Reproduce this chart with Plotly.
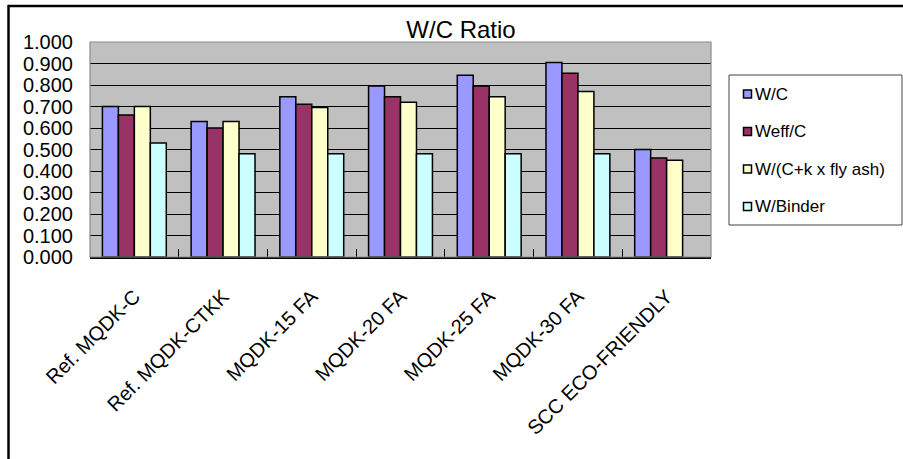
import plotly.graph_objects as go

# Mix designs and their water ratios
categories = ["Ref. MQDK-C", "Ref. MQDK-CTKK", "MQDK-15 FA", "MQDK-20 FA",
              "MQDK-25 FA", "MQDK-30 FA", "SCC ECO-FRIENDLY"]
w_c = [0.70, 0.63, 0.745, 0.795, 0.845, 0.905, 0.50]
weff_c = [0.66, 0.60, 0.71, 0.745, 0.795, 0.855, 0.46]
w_ck = [0.70, 0.63, 0.695, 0.72, 0.745, 0.77, 0.45]
w_binder = [0.53, 0.48, 0.48, 0.48, 0.48, 0.48, None]

series_names = ["W/C", "Weff/C", "W/(C+k x fly ash)", "W/Binder"]
series_values = [w_c, weff_c, w_ck, w_binder]
series_colors = ["#9999FF", "#993366", "#FFFFCC", "#CCFFFF"]

W, H = 903, 459
L, R, T, B = 90, 711, 42, 257  # plot-area pixel box

FONT = "Arial, Liberation Sans, sans-serif"


def px_x(x):
    return (x - L) / (R - L)


def px_y(y):
    return (B - y) / (B - T)


fig = go.Figure()
for name, vals, col in zip(series_names, series_values, series_colors):
    fig.add_trace(go.Bar(
        x=categories, y=vals, name=name, showlegend=False,
        marker=dict(color=col, line=dict(color="black", width=1.5)),
    ))

shapes = [
    # plot-area frame
    dict(type="rect", xref="paper", yref="paper", x0=0, x1=1, y0=0, y1=1,
         line=dict(color="#8c8c8c", width=1.2), layer="above"),
    # outer chart frame (top and left edges visible)
    dict(type="line", xref="paper", yref="paper",
         x0=px_x(8), x1=px_x(910), y0=px_y(6), y1=px_y(6),
         line=dict(color="black", width=2.5)),
    dict(type="line", xref="paper", yref="paper",
         x0=px_x(8.5), x1=px_x(8.5), y0=px_y(5), y1=px_y(470),
         line=dict(color="black", width=2.5)),
    # legend box
    dict(type="rect", xref="paper", yref="paper",
         x0=px_x(729), x1=px_x(902), y0=px_y(75), y1=px_y(225),
         line=dict(color="#444444", width=1), fillcolor="white"),
]

annotations = []
legend_rows = [94, 131.5, 169, 206.5]
for name, col, yc in zip(series_names, series_colors, legend_rows):
    shapes.append(dict(
        type="rect", xref="paper", yref="paper",
        x0=px_x(743.5), x1=px_x(751.5), y0=px_y(yc - 4), y1=px_y(yc + 4),
        line=dict(color="black", width=1.5), fillcolor=col))
    annotations.append(dict(
        text=name, xref="paper", yref="paper", x=px_x(753), y=px_y(yc),
        xanchor="left", yanchor="middle", showarrow=False,
        font=dict(size=17, family=FONT, color="black")))

fig.update_layout(
    width=W, height=H,
    margin=dict(l=L, r=W - R, t=T, b=H - B, autoexpand=False),
    paper_bgcolor="white",
    plot_bgcolor="#C0C0C0",
    barmode="group", bargap=0.28, bargroupgap=0,
    font=dict(family=FONT, color="black"),
    title=dict(text="W/C Ratio", x=461 / W, xref="container", xanchor="center",
               y=1 - 30 / H, yref="container", yanchor="middle",
               font=dict(size=24, family=FONT, color="black")),
    shapes=shapes,
    annotations=annotations,
    showlegend=False,
)

fig.update_xaxes(
    type="category", tickangle=-45, tickfont=dict(size=20, family=FONT),
    showline=True, linecolor="black", linewidth=2,
    ticks="inside", tickson="boundaries", ticklen=8, tickcolor="black",
    showgrid=False, ticklabelstandoff=18,
)
fig.update_yaxes(
    range=[0, 1], dtick=0.1, tickformat=".3f",
    tickfont=dict(size=20, family=FONT),
    showgrid=True, gridcolor="black", gridwidth=1,
    zeroline=False, ticks="", ticklabelstandoff=16,
)

fig.write_html("out.html")
